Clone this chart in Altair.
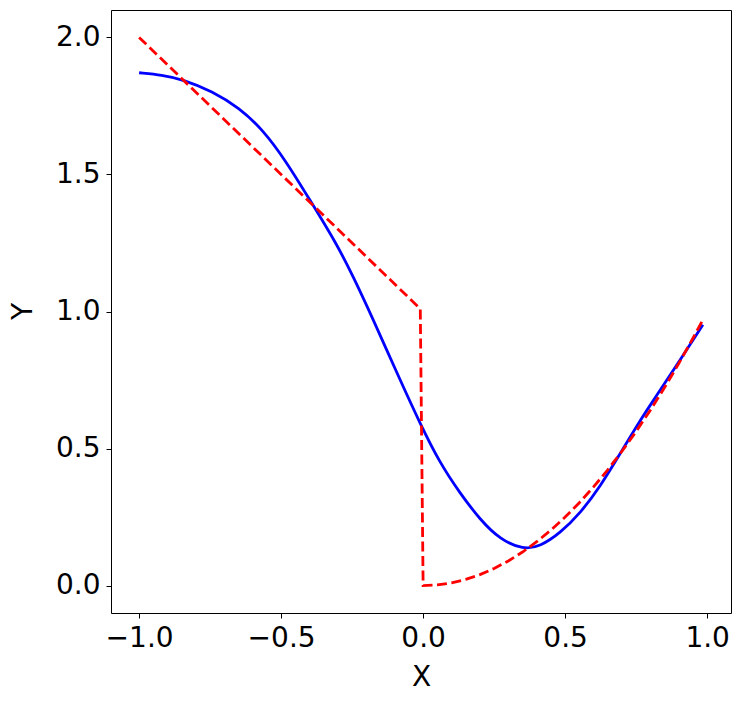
import altair as alt
import pandas as pd

# Blue solid curve
blue_x = [-1.0, -0.919, -0.848, -0.742, -0.648, -0.565, -0.483, -0.400, -0.306, -0.247,
          -0.182, -0.082, -0.012, 0.059, 0.130, 0.200, 0.271, 0.353, 0.412, 0.483, 0.554,
          0.624, 0.695, 0.766, 0.813, 0.883, 0.985]
blue_y = [1.871, 1.863, 1.847, 1.804, 1.743, 1.664, 1.549, 1.409, 1.250, 1.129,
          0.985, 0.752, 0.594, 0.447, 0.337, 0.241, 0.168, 0.131, 0.143, 0.192, 0.265,
          0.362, 0.484, 0.606, 0.679, 0.788, 0.952]

# Red dashed curve
red_x = [-1.0, -0.75, -0.5, -0.25, -0.01, 0.0, 0.05, 0.1, 0.15, 0.2, 0.25, 0.3, 0.35, 0.4,
         0.45, 0.5, 0.55, 0.6, 0.65, 0.7, 0.75, 0.8, 0.85, 0.9, 0.95, 0.985]
red_y = [2.0, 1.75, 1.5, 1.25, 1.01, 0.0, 0.0025, 0.01, 0.0225, 0.04, 0.0625, 0.09, 0.1225, 0.16,
         0.2025, 0.25, 0.3025, 0.36, 0.4225, 0.49, 0.5625, 0.64, 0.7225, 0.81, 0.9025, 0.97]

x_ticks = [-1.0, -0.5, 0.0, 0.5, 1.0]
y_ticks = [0.0, 0.5, 1.0, 1.5, 2.0]

blue_df = pd.DataFrame({"x": blue_x, "y": blue_y, "i": range(len(blue_x))})
red_df = pd.DataFrame({"x": red_x, "y": red_y, "i": range(len(red_x))})

FONT = "DejaVu Sans"

xscale = alt.Scale(domain=[-1.099, 1.084], nice=False, zero=False)
yscale = alt.Scale(domain=[-0.1, 2.1], nice=False, zero=False)

xaxis = alt.Axis(orient="bottom", values=x_ticks, format=".1f", grid=False, domain=True,
                 domainColor="black", domainWidth=1,
                 tickSize=5, tickColor="black", tickWidth=1, labelPadding=6,
                 labelFont=FONT, labelFontSize=28, labelColor="black",
                 titleFont=FONT, titleFontSize=28, titleFontWeight="normal",
                 titleColor="black", titleX=310, titleY=64, titleBaseline="middle",
                 titleAlign="center")
yaxis = alt.Axis(orient="left", values=y_ticks, format=".1f", grid=False, domain=True,
                 domainColor="black", domainWidth=1,
                 tickSize=5, tickColor="black", tickWidth=1, labelPadding=6,
                 labelFont=FONT, labelFontSize=28, labelColor="black",
                 titleFont=FONT, titleFontSize=28, titleFontWeight="normal",
                 titleColor="black", titleX=-88, titleY=301, titleBaseline="middle",
                 titleAlign="center", titleAngle=-90)

frame_x = alt.Axis(orient="top", labels=False, ticks=False, grid=False, domain=True,
                   domainColor="black", domainWidth=1, title=None)
frame_y = alt.Axis(orient="right", labels=False, ticks=False, grid=False, domain=True,
                   domainColor="black", domainWidth=1, title=None)

blue = alt.Chart(blue_df).mark_line(color="blue", strokeWidth=2.8, interpolate="basis").encode(
    x=alt.X("x:Q", scale=xscale, axis=xaxis, title="X"),
    y=alt.Y("y:Q", scale=yscale, axis=yaxis, title="Y"),
    order="i:Q",
)
red = alt.Chart(red_df).mark_line(color="red", strokeWidth=2.8, strokeDash=[10, 4.5]).encode(
    x=alt.X("x:Q", scale=xscale, axis=None),
    y=alt.Y("y:Q", scale=yscale, axis=None),
    order="i:Q",
)
frame = alt.Chart(blue_df).mark_point(opacity=0).encode(
    x=alt.X("x:Q", scale=xscale, axis=frame_x),
    y=alt.Y("y:Q", scale=yscale, axis=frame_y),
)

chart = alt.layer(blue, red, frame).resolve_axis(
    x="independent", y="independent"
).properties(
    width=620, height=603,
    autosize=alt.AutoSizeParams(type="none"),
    padding={"left": 103, "top": 2, "right": 3, "bottom": 84},
).configure_view(stroke=None).configure(background="white")

chart.save("out.html", embed_options={"renderer": "svg", "actions": False})
